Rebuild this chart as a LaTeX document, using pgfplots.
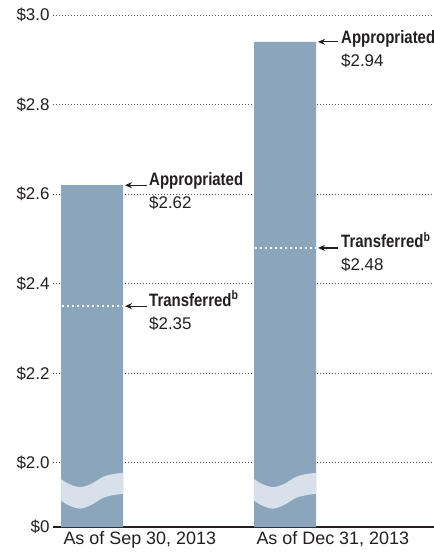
\documentclass[border=0pt]{standalone}
\usepackage{fontspec}
\setmainfont{Liberation Sans}
\newfontfamily\condb[FakeStretch=0.835]{Liberation Sans}
\usepackage{pgfplots}
\pgfplotsset{compat=1.18}
\usetikzlibrary{arrows.meta}
\definecolor{barcol}{HTML}{8AA5BC}
\definecolor{bandcol}{HTML}{D8E1E9}
\definecolor{txt}{HTML}{231F20}
\definecolor{gridc}{HTML}{555555}
\newcommand{\lab}{\fontsize{17}{20}\selectfont}
\newcommand{\xlab}{\fontsize{18}{20}\selectfont}
\newcommand{\blab}{\condb\bfseries\fontsize{18}{20}\selectfont}
\begin{document}
\begin{tikzpicture}
\begin{axis}[
  name=ax,
  scale only axis,
  width=381bp, height=512bp,
  xmin=0, xmax=381,
  ymin=1.857, ymax=3.0,
  axis x line*=bottom, axis y line*=left,
  x axis line style={-, line width=2.4bp, txt},
  y axis line style={draw=none},
  xtick={8,201},
  xticklabels={As of Sep 30{,} 2013, As of Dec 31{,} 2013},
  xticklabel style={anchor=north west, xshift=-1bp, yshift=-1bp, font=\xlab, text=txt},
  ytick={2.0,2.2,2.4,2.6,2.8,3.0},
  yticklabels={\$2.0,\$2.2,\$2.4,\$2.6,\$2.8,\$3.0},
  extra y ticks={1.857},
  extra y tick labels={\$0},
  extra y tick style={grid=none},
  yticklabel style={font=\lab, text=txt},
  tick style={draw=none},
  ymajorgrids,
  grid style={gridc, line width=0.9bp, dash pattern=on 0.9bp off 2.1bp},
  clip=true,
]
% bars
\addplot[ybar, bar width=62, bar shift=0pt, fill=barcol, draw=none] coordinates {(39,2.62) (232,2.94)};
% break bands
\fill[bandcol] plot[smooth] coordinates {(8,1.964) (16,1.953) (27,1.946) (38,1.953) (50,1.969) (60,1.975) (70,1.978)}
  -- plot[smooth] coordinates {(70,1.931) (60,1.928) (50,1.922) (38,1.906) (27,1.898) (16,1.905) (8,1.916)} -- cycle;
\fill[bandcol] plot[smooth] coordinates {(201,1.964) (209,1.953) (220,1.946) (231,1.953) (243,1.969) (253,1.975) (263,1.978)}
  -- plot[smooth] coordinates {(263,1.931) (253,1.928) (243,1.922) (231,1.906) (220,1.898) (209,1.905) (201,1.916)} -- cycle;
% transferred markers
\addplot[white, line width=2bp, dash pattern=on 2bp off 3bp] coordinates {(9,2.35) (70,2.35)};
\addplot[white, line width=2bp, dash pattern=on 2bp off 3bp] coordinates {(202,2.48) (263,2.48)};
% annotations
\draw[-{Stealth[length=7bp,width=6bp]}, line width=1.2bp, txt] (94,2.62) -- (72,2.62);
\node[anchor=base west, inner sep=0, text=txt, font=\blab] at (96,2.62) {Appropriated};
\node[anchor=base west, inner sep=0, text=txt, font=\lab, yshift=-23bp] at (96,2.62) {\$2.62};
\draw[-{Stealth[length=7bp,width=6bp]}, line width=1.2bp, txt] (94,2.35) -- (72,2.35);
\node[anchor=base west, inner sep=0, text=txt, font=\blab] at (96,2.35) {Transferred\textsuperscript{b}};
\node[anchor=base west, inner sep=0, text=txt, font=\lab, yshift=-23bp] at (96,2.35) {\$2.35};
\draw[-{Stealth[length=7bp,width=6bp]}, line width=1.2bp, txt] (285,2.94) -- (265,2.94);
\node[anchor=base west, inner sep=0, text=txt, font=\blab, yshift=-2bp] at (288,2.94) {Appropriated};
\node[anchor=base west, inner sep=0, text=txt, font=\lab, yshift=-25bp] at (288,2.94) {\$2.94};
\draw[-{Stealth[length=7bp,width=6bp]}, line width=1.2bp, txt] (285,2.48) -- (265,2.48);
\node[anchor=base west, inner sep=0, text=txt, font=\blab] at (288,2.48) {Transferred\textsuperscript{b}};
\node[anchor=base west, inner sep=0, text=txt, font=\lab, yshift=-23bp] at (288,2.48) {\$2.48};
\end{axis}
\pgfresetboundingbox
\path[use as bounding box] ([shift={(-53bp,-29bp)}]ax.south west) rectangle ([shift={(0bp,15bp)}]ax.north east);
\end{tikzpicture}
\end{document}
